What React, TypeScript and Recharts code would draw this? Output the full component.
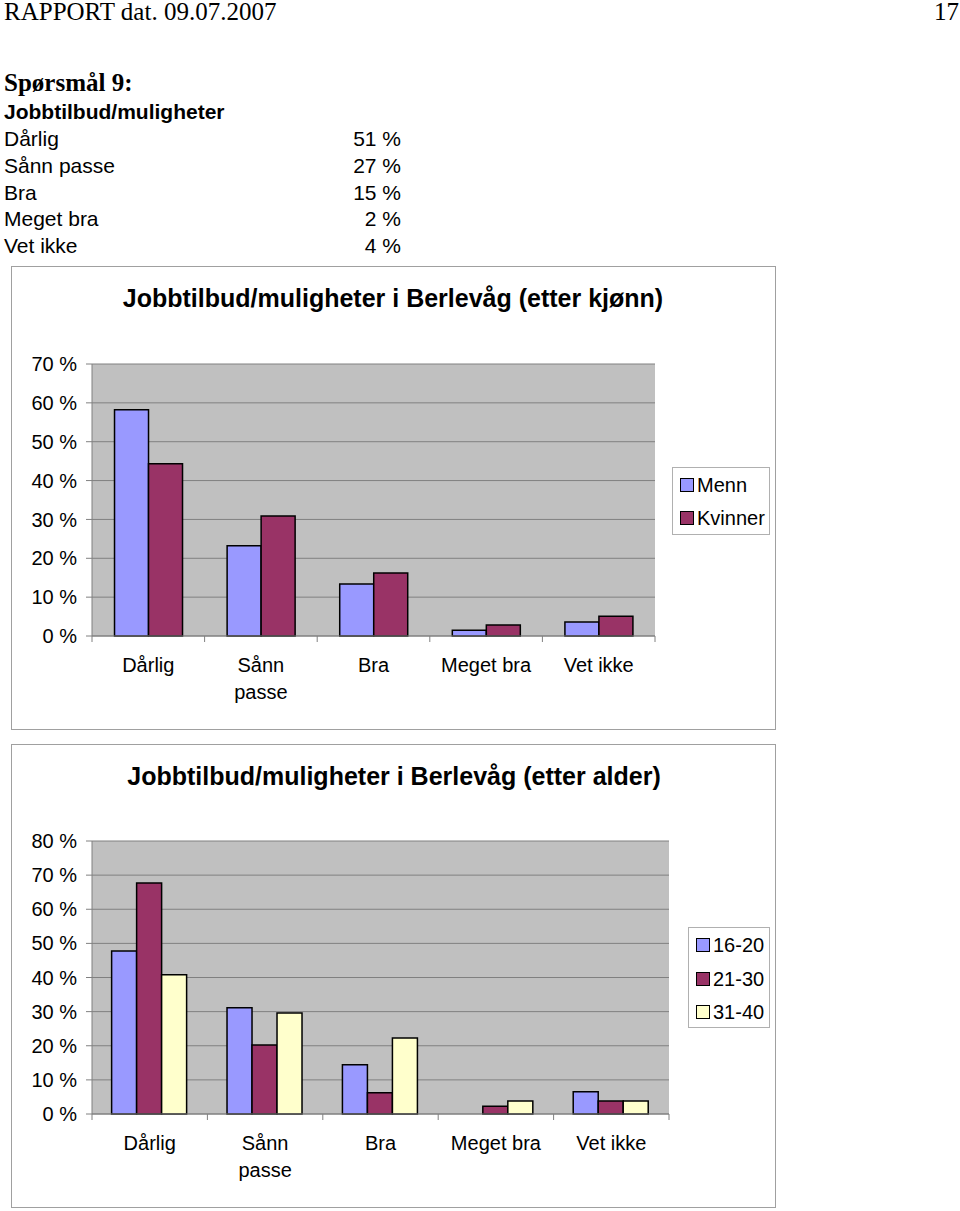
import React from "react"
import { BarChart, Bar, XAxis, YAxis, CartesianGrid } from "recharts"

const categories = ["Dårlig", "Sånn passe", "Bra", "Meget bra", "Vet ikke"]
const summaryValues = ["51 %", "27 %", "15 %", "2 %", "4 %"]

// Chart 1: etter kjønn
const menn = [58.2, 23.2, 13.4, 1.5, 3.6]
const kvinner = [44.3, 30.9, 16.2, 2.8, 5.1]

// Chart 2: etter alder
const age1620 = [47.8, 31.1, 14.4, 0, 6.5]
const age2130 = [67.7, 20.2, 6.2, 2.3, 3.8]
const age3140 = [40.8, 29.6, 22.3, 3.8, 3.8]

const ticks1 = [0, 10, 20, 30, 40, 50, 60, 70]
const ticks2 = [0, 10, 20, 30, 40, 50, 60, 70, 80]

const genderData = categories.map((c, i) => ({ name: c, Menn: menn[i], Kvinner: kvinner[i] }))
const ageData = categories.map((c, i) => ({
  name: c,
  "16-20": age1620[i],
  "21-30": age2130[i],
  "31-40": age3140[i],
}))

const SANS = "'Liberation Sans', Arial, sans-serif"
const SERIF = "'Liberation Serif', 'Times New Roman', serif"

const labelLines: Record<string, string[]> = { "Sånn passe": ["Sånn", "passe"] }

function makeTick(band: number) {
  return (props: any) => {
    const { x, y, payload, index, visibleTicksCount } = props
    const lines = labelLines[payload.value] || [payload.value]
    const last = index === (visibleTicksCount ?? categories.length) - 1
    return (
      <g>
        <line x1={x - band / 2} x2={x - band / 2} y1={y} y2={y + 6} stroke="#808080" />
        {last && <line x1={x + band / 2} x2={x + band / 2} y1={y} y2={y + 6} stroke="#808080" />}
        {lines.map((l: string, i: number) => (
          <text
            key={i}
            x={x}
            y={y + 29 + i * 27}
            dy="0.355em"
            textAnchor="middle"
            fill="#000"
            fontSize={20}
            fontFamily={SANS}
          >
            {l}
          </text>
        ))}
      </g>
    )
  }
}

const pct = (v: number) => `${v} %`

function LegendBox({ items, left, top, width, height, spacing }: any) {
  return (
    <div
      style={{
        position: "absolute",
        left,
        top,
        width,
        height,
        boxSizing: "border-box",
        border: "1px solid #b0b0b0",
        fontFamily: SANS,
        fontSize: 20,
      }}
    >
      {items.map((it: any, i: number) => (
        <div
          key={it.name}
          style={{
            position: "absolute",
            left: 7,
            top: 10 + i * spacing,
            display: "flex",
            alignItems: "center",
            height: 14,
            whiteSpace: "nowrap",
          }}
        >
          <span
            style={{
              display: "inline-block",
              width: 12,
              height: 12,
              background: it.color,
              border: "1px solid #000",
              marginRight: 3,
            }}
          />
          <span style={{ lineHeight: "14px" }}>{it.name}</span>
        </div>
      ))}
    </div>
  )
}

function Frame({ left, top, width, height }: any) {
  return (
    <div
      style={{
        position: "absolute",
        left,
        top,
        width,
        height,
        boxSizing: "border-box",
        border: "1px solid #a0a0a0",
      }}
    />
  )
}

function Title({ text, center, top }: any) {
  return (
    <div
      style={{
        position: "absolute",
        left: center - 350,
        width: 700,
        top,
        textAlign: "center",
        fontFamily: SANS,
        fontWeight: "bold",
        fontSize: 25,
        lineHeight: "28px",
      }}
    >
      {text}
    </div>
  )
}

export default function App() {
  const band1 = (765 - 81 - 121) / categories.length
  const band2 = (765 - 81 - 107) / categories.length
  return (
    <div style={{ position: "absolute", left: 0, top: 0, width: 960, height: 1211, background: "#fff" }}>
      <div style={{ position: "absolute", left: 4, top: -2, fontFamily: SERIF, fontSize: 25, lineHeight: "28px" }}>
        RAPPORT dat. 09.07.2007
      </div>
      <div style={{ position: "absolute", left: 934, top: -2, fontFamily: SERIF, fontSize: 25, lineHeight: "28px" }}>
        17
      </div>
      <div
        style={{
          position: "absolute",
          left: 4,
          top: 69,
          fontFamily: SERIF,
          fontSize: 25,
          lineHeight: "28px",
          fontWeight: "bold",
        }}
      >
        Spørsmål 9:
      </div>
      <div
        style={{
          position: "absolute",
          left: 4,
          top: 99,
          fontFamily: SANS,
          fontSize: 21,
          lineHeight: "26px",
          fontWeight: "bold",
        }}
      >
        Jobbtilbud/muligheter
      </div>
      {categories.map((c, i) => (
        <React.Fragment key={c}>
          <div
            style={{
              position: "absolute",
              left: 4,
              top: 126 + i * 26.8,
              fontFamily: SANS,
              fontSize: 21,
              lineHeight: "26px",
            }}
          >
            {c}
          </div>
          <div
            style={{
              position: "absolute",
              left: 200,
              width: 201,
              textAlign: "right",
              top: 126 + i * 26.8,
              fontFamily: SANS,
              fontSize: 21,
              lineHeight: "26px",
            }}
          >
            {summaryValues[i]}
          </div>
        </React.Fragment>
      ))}

      {/* Chart 1 */}
      <Frame left={11} top={266} width={765} height={464} />
      <Title text="Jobbtilbud/muligheter i Berlevåg (etter kjønn)" center={393} top={284} />
      <div style={{ position: "absolute", left: 11, top: 266 }}>
        <BarChart
          width={765}
          height={464}
          data={genderData}
          margin={{ top: 98, right: 121, bottom: 0, left: 0 }}
          barCategoryGap="20%"
          barGap={0}
        >
          <CartesianGrid vertical={false} stroke="#808080" fill="#c0c0c0" fillOpacity={1} />
          <XAxis
            dataKey="name"
            height={94}
            stroke="#808080"
            tickLine={false}
            tickSize={0}
            tickMargin={0}
            interval={0}
            tick={makeTick(band1)}
          />
          <YAxis
            width={81}
            domain={[0, 70]}
            ticks={ticks1}
            tickFormatter={pct}
            stroke="#808080"
            tickSize={6}
            tickMargin={9}
            tick={{ fill: "#000", fontSize: 20, fontFamily: SANS }}
            interval={0}
          />
          <Bar dataKey="Menn" fill="#9999ff" stroke="#000" strokeWidth={1.5} isAnimationActive={false} />
          <Bar dataKey="Kvinner" fill="#993366" stroke="#000" strokeWidth={1.5} isAnimationActive={false} />
        </BarChart>
      </div>
      <LegendBox
        left={672}
        top={467}
        width={98}
        height={68}
        spacing={33}
        items={[
          { name: "Menn", color: "#9999ff" },
          { name: "Kvinner", color: "#993366" },
        ]}
      />

      {/* Chart 2 */}
      <Frame left={11} top={744} width={765} height={464} />
      <Title text="Jobbtilbud/muligheter i Berlevåg (etter alder)" center={394} top={762} />
      <div style={{ position: "absolute", left: 11, top: 744 }}>
        <BarChart
          width={765}
          height={464}
          data={ageData}
          margin={{ top: 97, right: 107, bottom: 0, left: 0 }}
          barCategoryGap="17%"
          barGap={0}
        >
          <CartesianGrid vertical={false} stroke="#808080" fill="#c0c0c0" fillOpacity={1} />
          <XAxis
            dataKey="name"
            height={94}
            stroke="#808080"
            tickLine={false}
            tickSize={0}
            tickMargin={0}
            interval={0}
            tick={makeTick(band2)}
          />
          <YAxis
            width={81}
            domain={[0, 80]}
            ticks={ticks2}
            tickFormatter={pct}
            stroke="#808080"
            tickSize={6}
            tickMargin={9}
            tick={{ fill: "#000", fontSize: 20, fontFamily: SANS }}
            interval={0}
          />
          <Bar dataKey="16-20" fill="#9999ff" stroke="#000" strokeWidth={1.5} isAnimationActive={false} />
          <Bar dataKey="21-30" fill="#993366" stroke="#000" strokeWidth={1.5} isAnimationActive={false} />
          <Bar dataKey="31-40" fill="#ffffcc" stroke="#000" strokeWidth={1.5} isAnimationActive={false} />
        </BarChart>
      </div>
      <LegendBox
        left={688}
        top={927}
        width={82}
        height={101}
        spacing={33.5}
        items={[
          { name: "16-20", color: "#9999ff" },
          { name: "21-30", color: "#993366" },
          { name: "31-40", color: "#ffffcc" },
        ]}
      />
    </div>
  )
}
